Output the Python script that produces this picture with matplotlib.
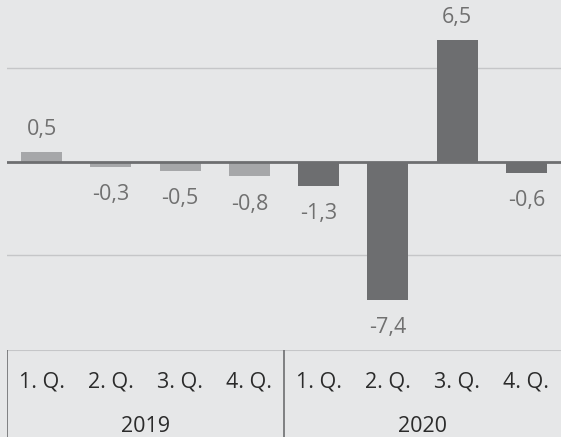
import numpy as np
import matplotlib.pyplot as plt

plt.rcParams['font.family'] = ['Open Sans', 'DejaVu Sans']

quarters = ["1. Q.", "2. Q.", "3. Q.", "4. Q.", "1. Q.", "2. Q.", "3. Q.", "4. Q."]
years = ["2019", "2020"]
values = [0.5, -0.3, -0.5, -0.8, -1.3, -7.4, 6.5, -0.6]
labels = ["0,5", "-0,3", "-0,5", "-0,8", "-1,3", "-7,4", "6,5", "-0,6"]

bg = "#e6e7e8"
light = "#a6a7a9"
dark = "#6d6e70"
colors = [light]*4 + [dark]*4

W, H = 561, 437
fig = plt.figure(figsize=(W/100, H/100), dpi=100, facecolor=bg)

# bar area
ax = fig.add_axes([7/W, 87/H, 554/W, 350/H])
ax.set_facecolor(bg)
x = np.arange(len(values))
ax.bar(x, values, width=0.59, color=colors, zorder=2)
ax.set_xlim(-0.5, 7.5)
ax.set_ylim(-10.08, 8.64)
for g in [5, -5]:
    ax.axhline(g, color="#c5c6c8", lw=1, zorder=1)
ax.axhline(0, color="#6d6e70", lw=2, zorder=3)
for s in ax.spines.values():
    s.set_visible(False)
ax.set_xticks([])
ax.set_yticks([])

for xi, v, lab in zip(x, values, labels):
    off = 16.5 if v > 0 else -20
    ax.annotate(lab, (xi, v), xytext=(0, off), textcoords="offset points",
                ha="center", va="center", fontsize=15.5, color="#707070")

# category table
tb = fig.add_axes([7/W, 0, 554/W, 87/H])
tb.set_facecolor(bg)
tb.set_xlim(-0.5, 7.5)
tb.set_ylim(0, 87)
tb.axis("off")
tb.axhline(87, color="#c5c6c8", lw=1.5)
for xv in [-0.5, 3.5]:
    tb.axvline(xv, color="#6d6e70", lw=1.2)
for xi, q in zip(x, quarters):
    tb.text(xi, 55, q, ha="center", va="center", fontsize=15.5, color="#2b2b2b")
for i, yr in enumerate(years):
    tb.text(1.5 + 4*i, 11, yr, ha="center", va="center", fontsize=15.5, color="#2b2b2b")

fig.savefig("out.png", dpi=100, facecolor=bg)
